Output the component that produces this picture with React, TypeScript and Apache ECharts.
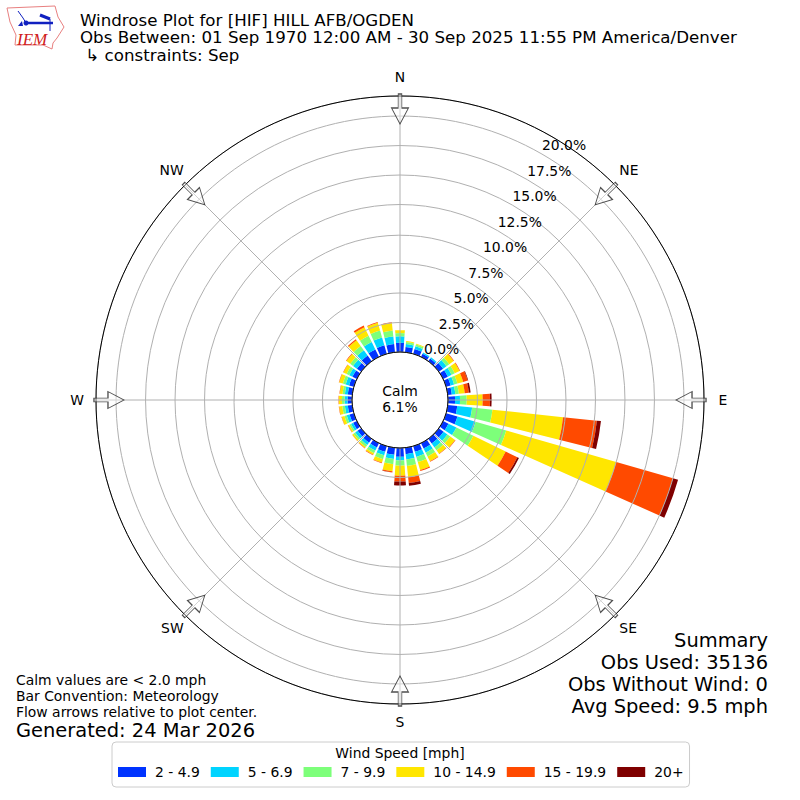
import React, { useEffect, useRef } from "react";
import * as echarts from "echarts";

const FONT = "DejaVu Sans";
const bins = ["0","10","20","30","40","50","60","70","80","90","100","110","120","130","140","150","160","170","180","190","200","210","220","230","240","250","260","270","280","290","300","310","320","330","340","350"];
const speed1 = [0.78,0.45,0.42,0.3,0.28,0.45,0.45,0.4,0.35,0.6,0.81,1.0,0.5,0.5,0.5,0.5,0.5,0.55,0.75,0.6,0.5,0.4,0.4,0.38,0.35,0.38,0.38,0.38,0.38,0.42,0.42,0.45,0.6,0.7,0.75,0.7];
const speed2 = [0.55,0.25,0.25,0.1,0.12,0.35,0.35,0.3,0.3,0.42,1.27,1.6,0.75,0.4,0.4,0.4,0.45,0.45,0.3,0.35,0.3,0.3,0.25,0.25,0.2,0.25,0.25,0.25,0.25,0.3,0.3,0.4,0.55,0.7,0.7,0.65];
const speed3 = [0.27,0.17,0.15,0,0,0.3,0.3,0.3,0.3,0.57,1.73,2.7,1.6,0.3,0.3,0.35,0.45,0.55,0.45,0.45,0.35,0.25,0.2,0.18,0.16,0.2,0.22,0.22,0.2,0.25,0.25,0.3,0.45,0.6,0.6,0.5];
const speed4 = [0.25,0.08,0.08,0,0,0.45,0.45,0.5,0.5,1.35,6.02,9.7,3.05,0.5,0.35,0.45,0.7,0.95,0.85,0.6,0.3,0.15,0.12,0.12,0.12,0.24,0.27,0.27,0.24,0.33,0.3,0.4,0.6,0.8,0.7,0.65];
const speed5 = [0,0,0,0,0,0.05,0.05,0.4,0.35,0.62,2.88,5.0,1.1,0.05,0.05,0.05,0.1,0.5,0.5,0.1,0.05,0.05,0.03,0.02,0.02,0.03,0.03,0.03,0.03,0.03,0.03,0.05,0.1,0.15,0.05,0.05];
const speed6 = [0,0,0,0,0,0,0,0.05,0.15,0.14,0.35,0.45,0.15,0,0,0,0,0.25,0.33,0.02,0,0,0,0,0,0,0,0,0,0,0,0,0,0,0,0];
const speedNames = ["2 - 4.9","5 - 6.9","7 - 9.9","10 - 14.9","15 - 19.9","20+"];
const speedColors = ["#0033ff","#00d4ff","#7dff7a","#ffe600","#ff4a00","#7f0000"];
const compass = ["N","NE","E","SE","S","SW","W","NW"];
const compassPadding = [[0,0,10,0],[0,0,6.5,3],[0,0,0,12.6],[4.6,0,0,3],[9,0,0,0],[4.6,0,0,0],[0,10,0,0],[0,0,6.5,0]];
const ARROW = "path://M11 0 H17 V14 H28 L14 30 L0 14 H11 Z";
const arrowRadius = 20.6;

const titleLines = ["Windrose Plot for [HIF] HILL AFB/OGDEN","Obs Between: 01 Sep 1970 12:00 AM - 30 Sep 2025 11:55 PM America/Denver"," ↳ constraints: Sep"];
const summaryLines = ["Summary","Obs Used: 35136","Obs Without Wind: 0","Avg Speed: 9.5 mph"];
const noteLines = ["Calm values are < 2.0 mph","Bar Convention: Meteorology","Flow arrows relative to plot center."];

export default function App() {
  const ref = useRef<HTMLDivElement>(null);
  useEffect(() => {
    const chart = echarts.init(ref.current!, null, { renderer: "svg" });
    const speeds = [speed1, speed2, speed3, speed4, speed5, speed6];
    const center = ["50%", "50%"];
    const text = (x: number, y: number, t: string, size: number, extra: any = {}) => ({
      type: "text", x, y, silent: true,
      style: { text: t, fontFamily: FONT, fontSize: size, fill: "#000", textVerticalAlign: "middle", ...extra },
    });
    const blue = "#1020c0";
    chart.setOption({
      animation: false,
      backgroundColor: "#fff",
      polar: [
        { center, radius: [48, 304] },
        { center, radius: [48, 304] },
        { center, radius: [48, 284] },
      ],
      angleAxis: [
        { polarIndex: 0, type: "category", data: bins, startAngle: 95, clockwise: true, boundaryGap: true,
          axisLine: { show: false }, axisTick: { show: false }, axisLabel: { show: false }, splitLine: { show: false } },
        { polarIndex: 1, type: "category",
          data: compass.map((value, i) => ({ value, textStyle: { padding: compassPadding[i] } })),
          startAngle: 90, clockwise: true, boundaryGap: false,
          axisLine: { show: true, lineStyle: { color: "#000", width: 1 } }, axisTick: { show: false },
          axisLabel: { show: true, margin: 2, fontFamily: FONT, fontSize: 13.9, color: "#000" },
          splitLine: { show: true, lineStyle: { color: "#b0b0b0", width: 1 } }, z: 4 },
        { polarIndex: 2, type: "value", min: 0, max: 360, startAngle: 60, show: false },
      ],
      radiusAxis: [
        { polarIndex: 0, type: "value", min: 0, max: 21.7, interval: 2.5, z: 4,
          axisLine: { show: false }, axisTick: { show: false }, axisLabel: { show: false },
          splitLine: { show: true, lineStyle: { color: "#b0b0b0", width: 1 } } },
        { polarIndex: 1, type: "value", min: 0, max: 21.7, show: false },
        { polarIndex: 2, type: "value", min: 0, max: 20, interval: 2.5, z: 10,
          axisLine: { show: false }, axisTick: { show: false }, splitLine: { show: false },
          axisLabel: { show: true, margin: 0, fontFamily: FONT, fontSize: 13.9, color: "#000", align: "left", verticalAlign: "bottom",
            padding: [0, 0, 2, 0],
            formatter: (v: number) => v.toFixed(1) + "%" } },
      ],
      legend: {
        left: 112, top: 742, width: 576, orient: "horizontal",
        padding: [23, 6, 8, 6], itemWidth: 28, itemHeight: 10, itemGap: 11,
        borderColor: "#cccccc", borderWidth: 1, borderRadius: 4,
        icon: "rect", selectedMode: false,
        textStyle: { fontFamily: FONT, fontSize: 13.9, color: "#000", padding: [0, 0, 0, 4] },
        data: speedNames,
      },
      series: [
        ...speedNames.map((name, i) => ({
          name, type: "bar", coordinateSystem: "polar", polarIndex: 0, stack: "wind", barWidth: "80%",
          data: speeds[i], itemStyle: { color: speedColors[i] }, z: 3, silent: true,
        })),
        { type: "scatter", coordinateSystem: "polar", polarIndex: 1, symbol: ARROW, symbolSize: [17, 30], silent: true, z: 6,
          data: compass.map((c) => [arrowRadius, c]),
          symbolRotate: (_: any, p: any) => -compass.indexOf(p.data[1]) * 45,
          itemStyle: { color: "rgba(255,255,255,0.55)", borderColor: "#222", borderWidth: 1 } },
      ],
      graphic: [
        ...titleLines.map((t, i) => text(80, 20 + i * 17.8, t, 16.67, {})),
        text(400, 391, "Calm", 13.9, { textAlign: "center" }),
        text(400, 407, "6.1%", 13.9, { textAlign: "center" }),
        ...summaryLines.map((t, i) => text(768, 640 + i * 22, t, 19.44, { textAlign: "right" })),
        ...noteLines.map((t, i) => text(16, 680 + i * 16, t, 13.9, {})),
        text(16, 730, "Generated: 24 Mar 2026", 19.44, {}),
        text(400, 753, "Wind Speed [mph]", 13.9, { textAlign: "center" }),
        { type: "polyline", silent: true, shape: { points: [[7,8],[55,6],[58,17],[64,27],[57,38],[53,43],[52,49],[43,45],[15,45],[16,35],[10,22],[7,8]] }, style: { stroke: "#e88080", fill: "none", lineWidth: 1 } },
        { type: "polyline", silent: true, shape: { points: [[26,23],[53,23]] }, style: { stroke: blue, fill: "none", lineWidth: 2.5 } },
        { type: "polyline", silent: true, shape: { points: [[18,11],[23,18],[26,23]] }, style: { stroke: blue, fill: "none", lineWidth: 1 } },
        { type: "polyline", silent: true, shape: { points: [[40,15],[50,19]] }, style: { stroke: blue, fill: "none", lineWidth: 3 } },
        { type: "polyline", silent: true, shape: { points: [[50,19],[50,31]] }, style: { stroke: blue, fill: "none", lineWidth: 1 } },
        { type: "polygon", silent: true, shape: { points: [[18,26],[22,21],[23,26]] }, style: { fill: blue } },
        { type: "circle", silent: true, shape: { cx: 26, cy: 23, r: 2.5 }, style: { fill: blue } },
        text(17, 39, "IEM", 17, { fontFamily: "Liberation Serif", fontStyle: "italic", fill: "#d02020" }),
      ],
    });
    return () => chart.dispose();
  }, []);
  return <div ref={ref} style={{ position: "fixed", left: 0, top: 0, width: 800, height: 800 }} />;
}
